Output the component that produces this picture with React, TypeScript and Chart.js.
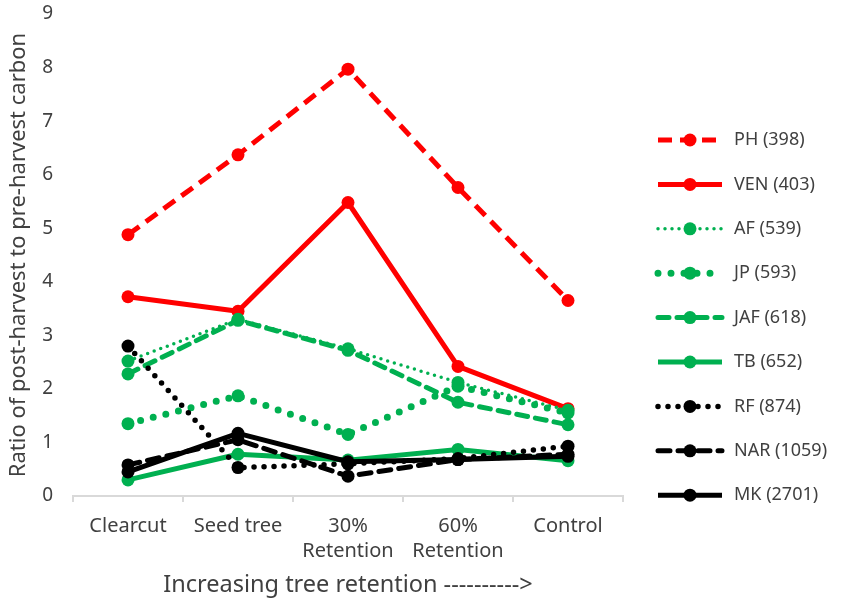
import { useRef, useEffect } from "react";
import { Chart, registerables } from "chart.js";

Chart.register(...registerables);

// categories along the x axis (multi-line where the reference wraps)
const categories: (string | string[])[] = [
  "Clearcut",
  "Seed tree",
  ["30%", "Retention"],
  ["60%", "Retention"],
  "Control",
];

const seriesNames = [
  "PH (398)",
  "VEN (403)",
  "AF (539)",
  "JP (593)",
  "JAF (618)",
  "TB (652)",
  "RF (874)",
  "NAR (1059)",
  "MK (2701)",
];

const ph = [4.88, 6.37, 7.97, 5.76, 3.65];
const ven = [3.72, 3.45, 5.48, 2.42, 1.63];
const af = [2.52, 3.3, 2.75, 2.12, 1.6];
const jp = [1.35, 1.87, 1.15, 2.05, 1.55];
const jaf = [2.28, 3.28, 2.72, 1.75, 1.33];
const tb = [0.3, 0.78, 0.67, 0.87, 0.66];
const rf = [2.8, 0.53, 0.6, 0.7, 0.93];
const nar = [0.58, 1.05, 0.37, 0.68, 0.78];
const mk = [0.45, 1.17, 0.64, 0.68, 0.74];

const yMin = 0;
const yMax = 9;
const yStep = 1;

const RED = "#ff0000";
const GREEN = "#00b050";
const BLACK = "#000000";
const TEXT = "#404040";
const FONT = "'Noto Sans', sans-serif";

const styles = [
  { color: RED, dash: [14, 8], width: 5, cap: "butt" },
  { color: RED, dash: [], width: 5, cap: "butt" },
  { color: GREEN, dash: [0, 7], width: 3.5, cap: "round" },
  { color: GREEN, dash: [0, 13], width: 7, cap: "round" },
  { color: GREEN, dash: [11, 8], width: 5, cap: "round" },
  { color: GREEN, dash: [], width: 5, cap: "butt" },
  { color: BLACK, dash: [0, 10], width: 5.5, cap: "round" },
  { color: BLACK, dash: [12, 8], width: 5, cap: "round" },
  { color: BLACK, dash: [], width: 5, cap: "butt" },
];

const allValues = [ph, ven, af, jp, jaf, tb, rf, nar, mk];

// legend drawn on the canvas: line sample with marker, then label
const lineLegend = {
  id: "lineLegend",
  afterDraw(chart: any) {
    const ctx = chart.ctx;
    const x0 = 658;
    const x1 = 722;
    const textX = 734;
    const top = 140;
    const gap = 44.4;
    ctx.save();
    chart.data.datasets.forEach((ds: any, i: number) => {
      const y = top + i * gap;
      ctx.strokeStyle = ds.borderColor;
      ctx.lineWidth = ds.borderWidth;
      ctx.lineCap = ds.borderCapStyle;
      ctx.setLineDash(ds.borderDash);
      ctx.beginPath();
      ctx.moveTo(x0, y);
      ctx.lineTo(x1, y);
      ctx.stroke();
      ctx.setLineDash([]);
      ctx.fillStyle = ds.pointBackgroundColor;
      ctx.beginPath();
      ctx.arc((x0 + x1) / 2, y, ds.pointRadius, 0, Math.PI * 2);
      ctx.fill();
      ctx.fillStyle = TEXT;
      ctx.font = `18px ${FONT}`;
      ctx.textBaseline = "middle";
      ctx.textAlign = "left";
      ctx.fillText(ds.label, textX, y);
    });
    ctx.restore();
  },
};

const App = () => {
  const chartRef = useRef<HTMLCanvasElement>(null);
  const chartInstanceRef = useRef<Chart | null>(null);

  useEffect(() => {
    if (chartInstanceRef.current) {
      chartInstanceRef.current.destroy();
    }
    if (!chartRef.current) return;
    const ctx = chartRef.current.getContext("2d");
    if (!ctx) return;

    const datasets = allValues.map((values, i) => ({
      label: seriesNames[i],
      data: values,
      borderColor: styles[i].color,
      backgroundColor: styles[i].color,
      pointBackgroundColor: styles[i].color,
      pointBorderColor: styles[i].color,
      borderWidth: styles[i].width,
      borderDash: styles[i].dash,
      borderCapStyle: styles[i].cap,
      borderJoinStyle: "round",
      pointRadius: 6.5,
      pointBorderWidth: 0,
      tension: 0,
      fill: false,
      // later series sit on top, as in the reference
      order: allValues.length - i,
    }));

    chartInstanceRef.current = new Chart(ctx, {
      type: "line",
      data: { labels: categories, datasets: datasets as any },
      plugins: [lineLegend],
      options: {
        animation: false,
        responsive: true,
        maintainAspectRatio: false,
        layout: { padding: { left: 4, top: 14, right: 228, bottom: 4 } },
        plugins: {
          legend: { display: false },
          tooltip: { enabled: false },
        },
        scales: {
          x: {
            offset: true,
            afterFit: (scale: any) => {
              scale.height = 110;
            },
            grid: {
              offset: true,
              drawOnChartArea: false,
              drawTicks: true,
              tickLength: 6,
              color: "#d9d9d9",
              lineWidth: 2,
            },
            border: { display: true, color: "#d9d9d9", width: 2 },
            ticks: {
              color: TEXT,
              font: { family: FONT, size: 20, lineHeight: 1.25 },
              padding: 12,
              maxRotation: 0,
              autoSkip: false,
            },
            title: {
              display: true,
              text: "Increasing tree retention ---------->",
              color: TEXT,
              font: { family: FONT, size: 23.5, lineHeight: 1.2 },
              padding: { top: 4, bottom: 7 },
            },
          },
          y: {
            min: yMin,
            max: yMax,
            afterFit: (scale: any) => {
              scale.width = 69;
              scale.paddingTop = 0;
              scale.paddingBottom = 0;
            },
            grid: { display: false, drawTicks: false },
            border: { display: false },
            ticks: {
              stepSize: yStep,
              color: TEXT,
              font: { family: FONT, size: 19 },
              padding: 20,
            },
            title: {
              display: true,
              text: "Ratio of post-harvest to pre-harvest carbon",
              color: TEXT,
              font: { family: FONT, size: 22, lineHeight: 1.2 },
              padding: { top: 2, bottom: 0 },
            },
          },
        },
      },
    });

    return () => {
      if (chartInstanceRef.current) {
        chartInstanceRef.current.destroy();
        chartInstanceRef.current = null;
      }
    };
  }, []);

  return (
    <div
      style={{
        position: "fixed",
        left: 0,
        top: 0,
        width: 851,
        height: 610,
        background: "#ffffff",
      }}
    >
      <canvas ref={chartRef}></canvas>
    </div>
  );
};

export default App;
